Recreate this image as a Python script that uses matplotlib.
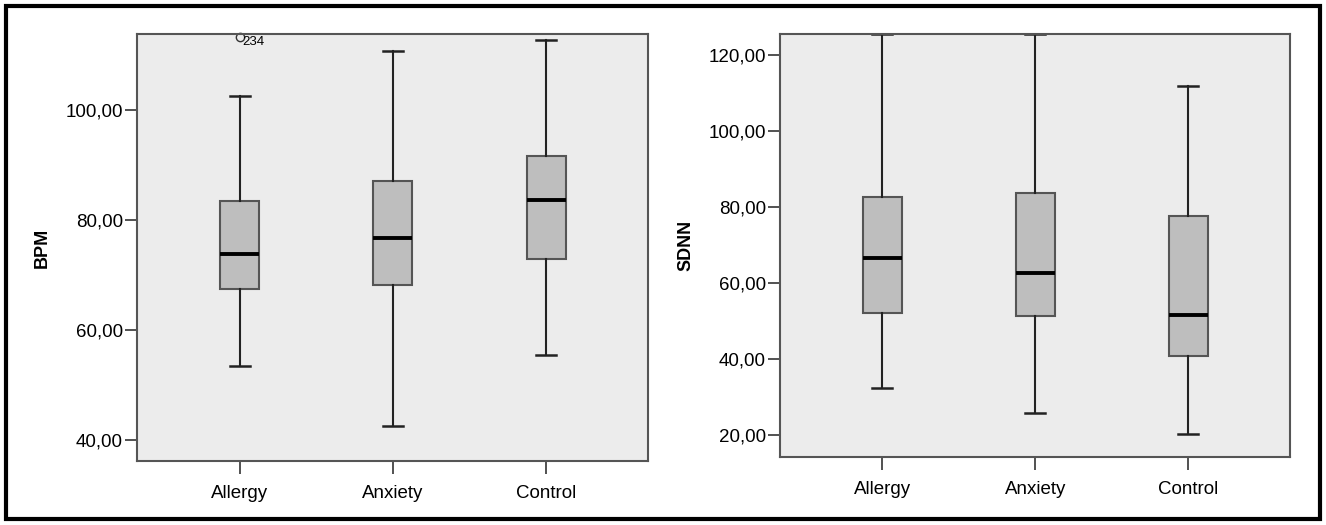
import matplotlib
matplotlib.use('Agg')
import matplotlib.pyplot as plt
from matplotlib.ticker import FuncFormatter
from matplotlib.patches import Rectangle

plt.rcParams['font.family'] = ['Liberation Sans', 'DejaVu Sans']

groups = ['Allergy', 'Anxiety', 'Control']

# BPM summary
bpm_whislo = [53.3, 42.4, 55.4]
bpm_q1 = [67.4, 68.2, 72.9]
bpm_med = [73.7, 76.7, 83.6]
bpm_q3 = [83.5, 87.0, 91.6]
bpm_whishi = [102.6, 110.7, 112.7]
bpm_outlier_value = 113.3
bpm_outlier_label = '234'

# SDNN summary
sdnn_whislo = [32.5, 25.8, 20.3]
sdnn_q1 = [52.2, 51.5, 40.9]
sdnn_med = [66.6, 62.8, 51.6]
sdnn_q3 = [82.6, 83.8, 77.6]
sdnn_whishi = [125.5, 125.5, 111.8]

bg = '#ececec'
box_fill = '#bebebe'


def make_stats(lo, q1, med, q3, hi, fliers=None):
    stats = []
    for i in range(len(lo)):
        stats.append({'whislo': lo[i], 'q1': q1[i], 'med': med[i], 'q3': q3[i],
                      'whishi': hi[i], 'fliers': fliers[i] if fliers else []})
    return stats


def draw(ax, stats, ylim, yticks, ylabel):
    ax.set_facecolor(bg)
    ax.bxp(stats, positions=[1, 2, 3], widths=0.255, patch_artist=True,
           showfliers=True, capwidths=0.13,
           boxprops=dict(facecolor=box_fill, edgecolor='#555555', linewidth=1.5),
           medianprops=dict(color='black', linewidth=2.8),
           whiskerprops=dict(color='#222222', linewidth=1.5),
           capprops=dict(color='#222222', linewidth=1.8),
           flierprops=dict(marker='o', markersize=6, markerfacecolor='none',
                           markeredgecolor='#333333', markeredgewidth=1.0))
    ax.set_xlim(0.33, 3.665)
    ax.set_ylim(*ylim)
    ax.set_yticks(yticks)
    ax.yaxis.set_major_formatter(FuncFormatter(lambda v, p: f'{v:.2f}'.replace('.', ',')))
    ax.set_xticks([1, 2, 3])
    ax.set_xticklabels(groups)
    ax.tick_params(axis='y', length=9, width=1.2, color='#333333', pad=1, labelsize=13.5)
    ax.tick_params(axis='x', length=9, width=1.2, color='#333333', pad=8, labelsize=13.5)
    for s in ax.spines.values():
        s.set_color('#555555')
        s.set_linewidth(1.5)
    ax.set_ylabel(ylabel, fontsize=13, fontweight='bold')
    ax.yaxis.set_label_coords(-0.168, 0.5)


fig = plt.figure(figsize=(13.26, 5.25), dpi=100)

ax1 = fig.add_axes([0.1033, 0.1219, 0.3854, 0.8133])
bpm_fliers = [[bpm_outlier_value], [], []]
draw(ax1, make_stats(bpm_whislo, bpm_q1, bpm_med, bpm_q3, bpm_whishi, bpm_fliers),
     (36.1, 113.8), [40, 60, 80, 100], 'BPM')
for a in ax1.get_children():
    if hasattr(a, 'set_clip_on'):
        a.set_clip_on(False)
ax1.annotate(bpm_outlier_label, (1, bpm_outlier_value), xytext=(2, -4),
             textcoords='offset points', fontsize=9.5, va='center', ha='left')

ax2 = fig.add_axes([0.5882, 0.1295, 0.3846, 0.8057])
draw(ax2, make_stats(sdnn_whislo, sdnn_q1, sdnn_med, sdnn_q3, sdnn_whishi),
     (14.3, 125.6), [20, 40, 60, 80, 100, 120], 'SDNN')

# outer frame
fig.patches.append(Rectangle((6 / 1326, 6 / 525), 1314 / 1326, 513 / 525,
                             transform=fig.transFigure, fill=False,
                             edgecolor='black', linewidth=3))

fig.savefig('out.png', dpi=100)
